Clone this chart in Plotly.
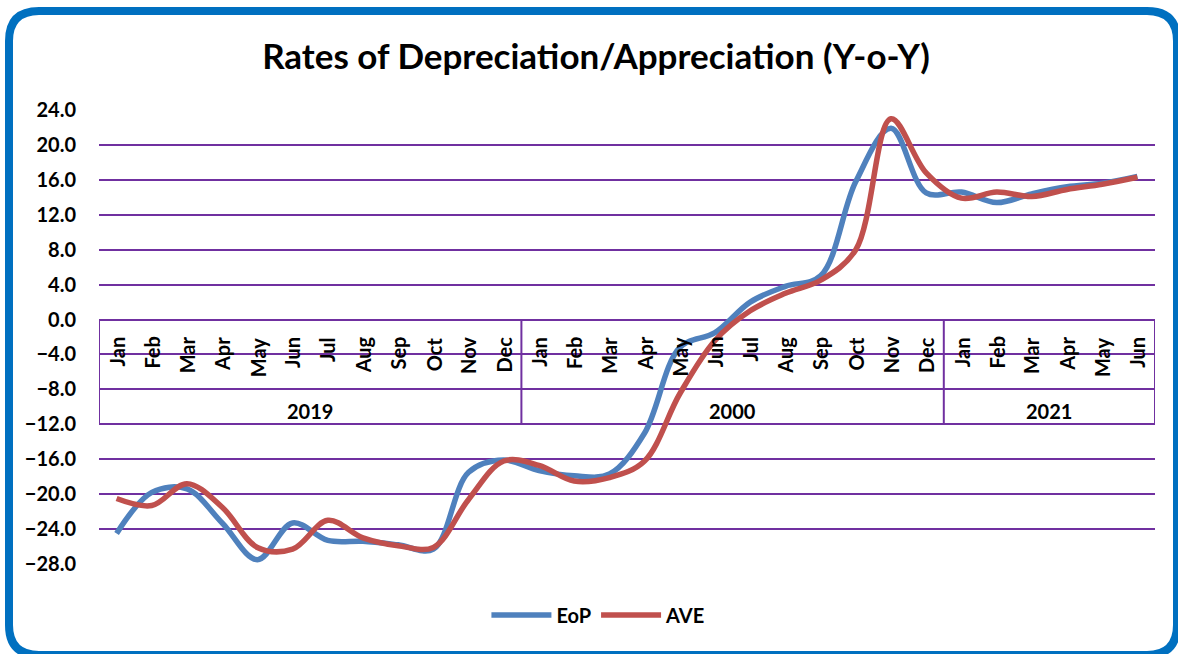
import plotly.graph_objects as go

months = ["Jan", "Feb", "Mar", "Apr", "May", "Jun", "Jul", "Aug", "Sep", "Oct", "Nov", "Dec",
          "Jan", "Feb", "Mar", "Apr", "May", "Jun", "Jul", "Aug", "Sep", "Oct", "Nov", "Dec",
          "Jan", "Feb", "Mar", "Apr", "May", "Jun"]
years = ["2019", "2000", "2021"]
year_counts = [12, 12, 6]

eop = [-24.5, -19.8, -19.4, -23.3, -27.5, -23.3, -25.3, -25.4, -25.8, -26.3, -17.5, -16.1,
       -17.3, -17.9, -17.7, -13.0, -3.2, -1.5, 2.0, 3.8, 5.0, 15.8, 21.9, 14.5,
       14.6, 13.4, 14.4, 15.2, 15.6, 16.4]
ave = [-20.5, -21.3, -18.8, -21.5, -26.1, -26.3, -23.0, -25.0, -25.9, -26.1, -20.6, -16.2,
       -16.7, -18.5, -18.1, -16.2, -8.5, -2.4, 1.0, 3.0, 4.5, 8.0, 23.0, 16.8,
       13.9, 14.6, 14.1, 14.9, 15.5, 16.3]

W, H = 1178, 654
L, R, T, B = 99, 23, 110, 90
PW, PH = W - L - R, H - T - B

FONT = "Lato"
PURPLE = "#7030A0"

x = list(range(len(months)))

fig = go.Figure()
fig.add_trace(go.Scatter(x=x, y=eop, name="EoP", mode="lines",
                         line=dict(color="#4F81BD", width=5.5, shape="spline", smoothing=1.0)))
fig.add_trace(go.Scatter(x=x, y=ave, name="AVE", mode="lines",
                         line=dict(color="#C0504D", width=5.5, shape="spline", smoothing=1.0)))

shapes = []
annotations = []

# category axis box separators
bounds = [-0.5]
for c in year_counts:
    bounds.append(bounds[-1] + c)
for b in bounds:
    shapes.append(dict(type="line", xref="x", yref="y", x0=b, x1=b, y0=0, y1=-12,
                       line=dict(color=PURPLE, width=2), layer="below"))

for i, m in enumerate(months):
    annotations.append(dict(x=i, y=-1.75, xref="x", yref="y", text="<b>%s</b>" % m,
                            textangle=-90, showarrow=False, yanchor="top", xanchor="center",
                            font=dict(family=FONT, size=20, color="black")))
for k, yr in enumerate(years):
    annotations.append(dict(x=(bounds[k] + bounds[k + 1]) / 2, y=-10.45, xref="x", yref="y",
                            text="<b>%s</b>" % yr, showarrow=False,
                            font=dict(family=FONT, size=20, color="black")))

# rounded border
def px(xp):
    return (xp - L) / PW
def py(yp):
    return (H - B - yp) / PH

x0, x1, y0, y1, r = 9, 1177, 11, 655, 30
path = ("M {a},{b} L {c},{b} Q {d},{b} {d},{e} L {d},{f} Q {d},{g} {c},{g} "
        "L {a},{g} Q {h},{g} {h},{f} L {h},{e} Q {h},{b} {a},{b} Z").format(
    a=px(x0 + r), b=py(y0), c=px(x1 - r), d=px(x1), e=py(y0 + r), f=py(y1 - r),
    g=py(y1), h=px(x0))
shapes.append(dict(type="path", xref="paper", yref="paper", path=path,
                   line=dict(color="#0070C0", width=8), fillcolor="rgba(0,0,0,0)"))

fig.update_layout(
    width=W, height=H,
    margin=dict(l=L, r=R, t=T, b=B),
    paper_bgcolor="white", plot_bgcolor="white",
    title=dict(text="<b>Rates of Depreciation/Appreciation (Y-o-Y)</b>", x=0.506, xanchor="center",
               y=1 - 57 / H, yanchor="middle", xref="container", yref="container",
               font=dict(family=FONT, size=35, color="black")),
    xaxis=dict(range=[-0.5, 29.5], showgrid=False, zeroline=False, showticklabels=False,
               showline=False, fixedrange=True),
    yaxis=dict(range=[-28, 24], dtick=4, tick0=0, tickformat=".1f", showgrid=True,
               gridcolor=PURPLE, gridwidth=2.2, zeroline=False, showline=False,
               ticklabelstandoff=22,
               tickfont=dict(family=FONT, size=20, color="black", weight="bold")),
    legend=dict(orientation="h", xref="container", yref="container", x=0.508, y=1 - 615 / H,
                xanchor="center", yanchor="middle", itemwidth=60,
                font=dict(family=FONT, size=20, color="black", weight="bold")),
    shapes=shapes,
    annotations=annotations,
)

fig.write_html("out.html", config={"displayModeBar": False},
               post_script="document.body.style.margin='0';")
